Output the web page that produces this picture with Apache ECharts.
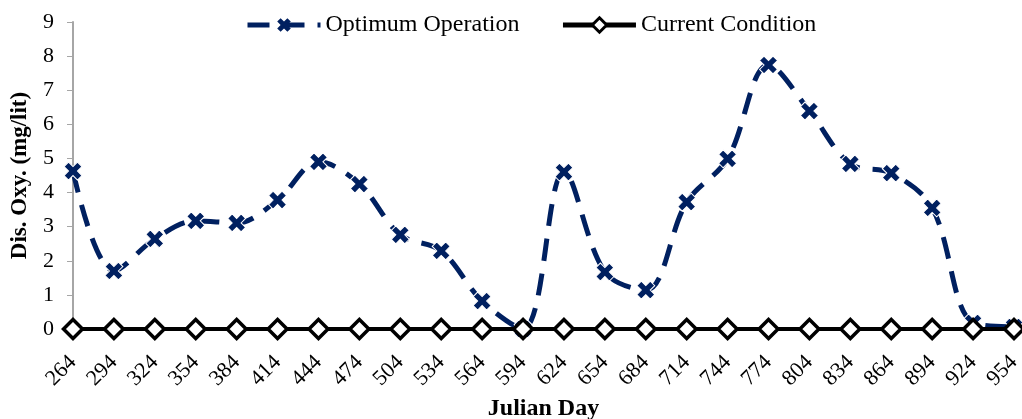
<!DOCTYPE html>
<html><head><meta charset="utf-8">
<script src="https://cdn.jsdelivr.net/npm/echarts@6/dist/echarts.min.js"></script>
<style>html,body{margin:0;padding:0;background:#fff}#c{width:1022px;height:419px}</style>
</head><body><div id="c"></div>
<script>
var days = ['264','294','324','354','384','414','444','474','504','534','564','594','624','654','684','714','744','774','804','834','864','894','924','954'];
var optimum = [4.63,1.70,2.64,3.17,3.11,3.78,4.90,4.25,2.76,2.29,0.82,0.0,4.60,1.67,1.14,3.72,4.99,7.74,6.39,4.84,4.57,3.55,0.18,0.06];
var current = [0,0,0,0,0,0,0,0,0,0,0,0,0,0,0,0,0,0,0,0,0,0,0,0];
var yTicks = [0,1,2,3,4,5,6,7,8,9];

var crossPath = 'path://M-1,-3 L1,-3 L1,-1 L3,-1 L3,1 L1,1 L1,3 L-1,3 L-1,1 L-3,1 L-3,-1 L-1,-1 Z';
var font = 'Liberation Serif';
var chart = echarts.init(document.getElementById('c'));
chart.setOption({
  animation: false,
  textStyle: {fontFamily: font},
  legend: {
    top: 8, left: 240, itemWidth: 73, itemHeight: 18, itemGap: 41,
    textStyle: {fontFamily: font, fontSize: 24, color: '#000'},
    lineStyle: {width: 5},
    data: [
      {name: 'Optimum Operation', itemStyle: {color: '#002060', borderWidth: 0}},
      {name: 'Current Condition', itemStyle: {color: '#fff', borderColor: '#000', borderWidth: 3}}
    ]
  },
  grid: {left: 73, right: 8, top: 22, bottom: 90, outerBoundsMode: 'none', containLabel: false},
  xAxis: {
    type: 'category', data: days, boundaryGap: false,
    name: 'Julian Day', nameLocation: 'middle', nameGap: 68, nameMoveOverlap: false,
    nameTextStyle: {fontFamily: font, fontSize: 24, fontWeight: 'bold', color: '#000', verticalAlign: 'top'},
    axisLine: {lineStyle: {color: '#999', width: 1}},
    axisTick: {show: false},
    axisLabel: {rotate: 45, fontFamily: font, fontSize: 22, color: '#000', margin: 30, interval: 0}
  },
  yAxis: {
    type: 'value', min: yTicks[0], max: yTicks[yTicks.length-1], interval: 1,
    name: 'Dis. Oxy. (mg/lit)', nameLocation: 'middle', nameGap: 41, nameMoveOverlap: false,
    nameTextStyle: {fontFamily: font, fontSize: 23, fontWeight: 'bold', color: '#000'},
    axisLine: {show: true, lineStyle: {color: '#a6a6a6', width: 2}},
    axisTick: {show: true, length: 6, lineStyle: {color: '#a6a6a6', width: 1}},
    splitLine: {show: false},
    axisLabel: {fontFamily: font, fontSize: 22, color: '#000', margin: 19}
  },
  series: [
    {
      name: 'Optimum Operation', type: 'line', data: optimum, smooth: 0.35,
      symbol: crossPath, symbolSize: 19, symbolRotate: 45,
      lineStyle: {color: '#002060', width: 5, type: [22, 13], cap: 'butt'},
      itemStyle: {color: '#002060', borderColor: '#fff', borderWidth: 1},
      z: 2
    },
    {
      name: 'Current Condition', type: 'line', data: current,
      symbol: 'diamond', symbolSize: 19,
      lineStyle: {color: '#000', width: 4},
      itemStyle: {color: '#fff', borderColor: '#000', borderWidth: 3.5},
      z: 3
    }
  ]
});
</script></body></html>
